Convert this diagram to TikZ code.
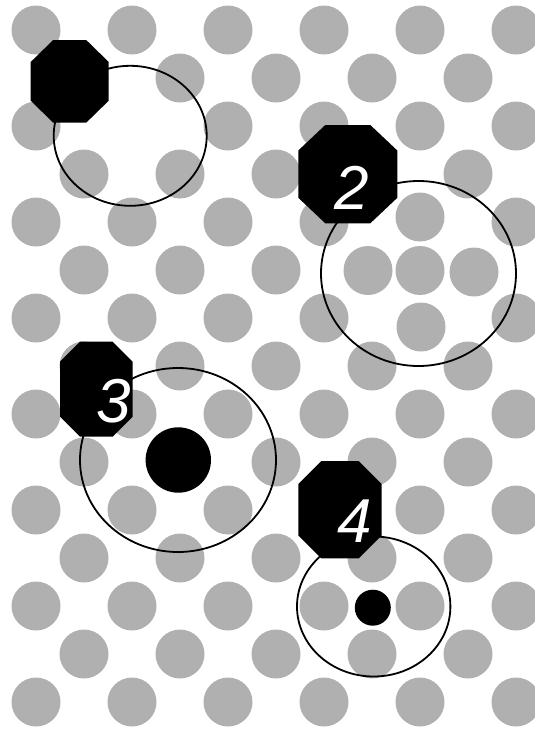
\documentclass[tikz,border=0pt]{standalone}
\usepackage{fontspec}
\setmainfont{Liberation Sans}
\usepackage{tikz}
\usetikzlibrary{positioning}

\definecolor{dotgray}{RGB}{176,176,176}

% black octagon tag: left, top, right, bottom, cut x, cut y
\newcommand{\tagshape}[6]{%
  \fill (#1+#5,#2) -- (#3-#5,#2) -- (#3,#2+#6) -- (#3,#4-#6) -- (#3-#5,#4)
    -- (#1+#5,#4) -- (#1,#4-#6) -- (#1,#2+#6) -- cycle;}

\begin{document}
\begin{tikzpicture}[
  x=1pt, y=-1pt,
  lattice/.style={fill=dotgray},
  ring/.style={draw, line width=1.8pt},
  defect/.style={fill=black},
  num/.style={text=white, inner sep=0pt, font=\fontsize{62}{62}\selectfont\itshape},
]
\useasboundingbox (0,0) rectangle (535,731);
\clip (0,0) rectangle (535,731);

% host lattice
\foreach \k in {0,...,14}{
  \foreach \j in {0,...,5}{
    \pgfmathtruncatemacro\isgap{(\k==2 && \j==1) || (\k==4 && \j==4) || (\k==5 && \j==3) || (\k==5 && \j==4) || (\k==6 && \j==4) || (\k==9 && \j==1)}
    \ifnum\isgap=0
      \fill[lattice] ({36+48*mod(\k,2)+96*\j},{30+48*\k}) circle[radius=24.5pt];
    \fi
  }
}

% self-interstitial and displaced neighbours
\foreach \p in {(420,217), (368,270.5), (420,270.5), (474,272), (421,327)}
  \fill[lattice] \p circle[radius=24.5pt];

% outlines round the defects
\draw[ring] (130.2,135.8) ellipse[x radius=76.5pt, y radius=70pt];
\draw[ring] (418.5,273.5) ellipse[x radius=97.5pt, y radius=92.5pt];
\draw[ring] (178,460) ellipse[x radius=98pt, y radius=92pt];
\draw[ring] (373.7,606.5) ellipse[x radius=76.7pt, y radius=70pt];

% foreign atoms
\fill[defect] (178.3,460) circle[radius=32.7pt];
\fill[defect] (372.8,607.7) circle[radius=18pt];

% tags
\tagshape{30.7}{40}{108.7}{122.7}{22.5}{22}
\tagshape{298.3}{125}{397.3}{223.3}{27}{25.5}
\tagshape{60}{341.7}{132.7}{436.7}{20}{20}
\tagshape{298.3}{461}{381.7}{558.3}{23}{23}

\node[num] (two) at (352,188) {2};
\node[num] (three) at (114,401) {3};
\node[num] (four) at (355,521) {4};
\end{tikzpicture}
\end{document}
